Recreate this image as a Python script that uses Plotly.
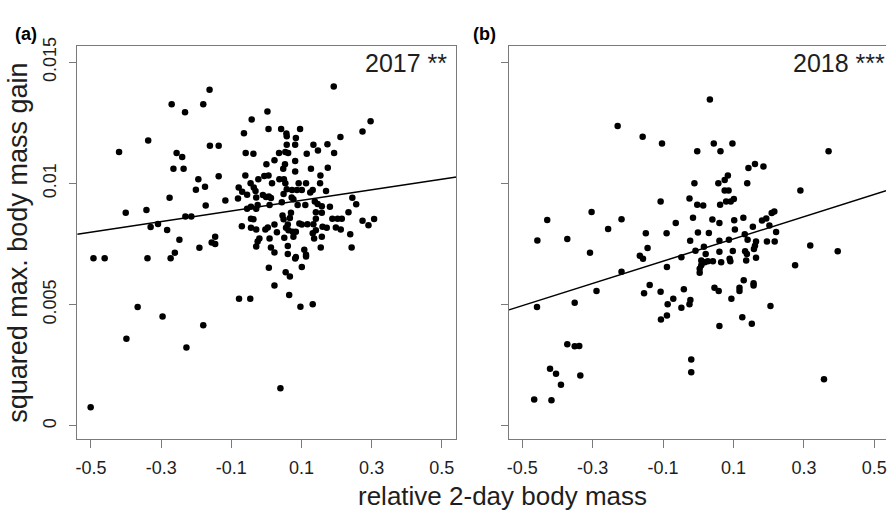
import plotly.graph_objects as go

# ---------------- data ----------------
x_2017 = [-0.420, -0.337, -0.270, -0.232, -0.256, -0.240, -0.265, -0.236, -0.194, -0.180,
          -0.162, -0.161, -0.136, -0.136, -0.064, -0.042, -0.059, -0.037, -0.060, 0.003,
          0.006, 0.042, 0.057, 0.058, 0.096, 0.084, 0.058, 0.082, 0.036, 0.054,
          0.062, 0.023, 0.000, 0.053, 0.082, 0.048, 0.082, 0.115, 0.134, 0.147,
          0.174, 0.193, 0.211, 0.192, 0.274, 0.297, 0.127, 0.175, 0.154, -0.006,
          0.006, -0.023, 0.016, 0.037, 0.050, -0.045, 0.054, 0.092, 0.113, 0.153,
          -0.201, -0.175, -0.173, -0.276, -0.401, -0.342, -0.330, -0.309, -0.283, -0.231,
          -0.214, -0.248, -0.191, -0.156, -0.146, -0.146, -0.493, -0.461, -0.339, -0.273,
          -0.261, -0.367, -0.296, -0.180, -0.399, -0.228, -0.501, 0.040, 0.007, 0.101,
          0.055, 0.067, 0.023, 0.065, -0.078, -0.046, 0.097, 0.132, 0.082, 0.113,
          -0.079, -0.069, -0.036, -0.031, 0.058, 0.073, 0.087, 0.101, 0.125, 0.132,
          0.170, -0.117, -0.081, -0.055, -0.029, -0.010, -0.001, 0.007, 0.013, 0.049,
          0.072, 0.077, 0.044, 0.009, -0.025, 0.089, 0.111, 0.138, 0.146, 0.158,
          0.181, 0.245, 0.256, -0.055, -0.044, -0.029, 0.070, 0.046, 0.049, 0.067,
          0.141, 0.158, 0.141, 0.188, 0.203, 0.215, 0.234, 0.274, 0.291, 0.307,
          -0.044, -0.037, -0.070, -0.044, -0.029, -0.003, 0.004, 0.023, 0.061, 0.056,
          0.063, 0.075, 0.084, 0.094, 0.101, 0.117, 0.134, 0.141, 0.160, 0.172,
          0.198, 0.212, 0.239, 0.030, 0.009, -0.020, -0.025, -0.029, 0.051, 0.077,
          0.132, 0.136, 0.158, 0.013, 0.023, 0.061, 0.061, 0.084, 0.108, 0.113,
          0.155, 0.243]
y_2017 = [0.01129, 0.01177, 0.01326, 0.01293, 0.01125, 0.01109, 0.01060, 0.01060, 0.01017, 0.01326,
          0.01386, 0.01155, 0.01155, 0.01029, 0.01207, 0.01264, 0.01125, 0.01122, 0.01033, 0.01297,
          0.01224, 0.01224, 0.01206, 0.01194, 0.01224, 0.01187, 0.01159, 0.01159, 0.01125, 0.01129,
          0.01125, 0.01095, 0.01079, 0.01079, 0.01092, 0.01060, 0.01049, 0.01122, 0.01159, 0.01136,
          0.01161, 0.01125, 0.01191, 0.01400, 0.01214, 0.01256, 0.01060, 0.01064, 0.01033, 0.01030,
          0.01033, 0.01017, 0.01001, 0.01017, 0.01017, 0.01001, 0.01001, 0.01001, 0.01001, 0.01001,
          0.00974, 0.00986, 0.00909, 0.00941, 0.00879, 0.00890, 0.00820, 0.00832, 0.00808, 0.00863,
          0.00863, 0.00767, 0.00735, 0.00756, 0.00780, 0.00750, 0.00691, 0.00691, 0.00691, 0.00691,
          0.00714, 0.00490, 0.00451, 0.00415, 0.00359, 0.00323, 0.00077, 0.00155, 0.00652, 0.00655,
          0.00633, 0.00616, 0.00579, 0.00540, 0.00524, 0.00524, 0.00491, 0.00501, 0.00690, 0.00698,
          0.00983, 0.00965, 0.00983, 0.00969, 0.00976, 0.00973, 0.00973, 0.00973, 0.00962, 0.00973,
          0.00969, 0.00929, 0.00938, 0.00953, 0.00942, 0.00952, 0.00944, 0.00946, 0.00940, 0.00956,
          0.00942, 0.00935, 0.00922, 0.00911, 0.00911, 0.00911, 0.00911, 0.00925, 0.00915, 0.00906,
          0.00904, 0.00941, 0.00914, 0.00895, 0.00904, 0.00895, 0.00879, 0.00868, 0.00852, 0.00857,
          0.00881, 0.00879, 0.00854, 0.00854, 0.00854, 0.00854, 0.00881, 0.00846, 0.00827, 0.00853,
          0.00854, 0.00852, 0.00823, 0.00817, 0.00810, 0.00810, 0.00818, 0.00830, 0.00830, 0.00817,
          0.00807, 0.00800, 0.00800, 0.00834, 0.00830, 0.00831, 0.00831, 0.00807, 0.00821, 0.00817,
          0.00818, 0.00810, 0.00790, 0.00798, 0.00773, 0.00773, 0.00760, 0.00740, 0.00776, 0.00780,
          0.00794, 0.00773, 0.00780, 0.00736, 0.00715, 0.00742, 0.00709, 0.00696, 0.00726, 0.00706,
          0.00736, 0.00736]

x_2018 = [0.033, -0.229, -0.158, -0.103, -0.003, 0.044, 0.063, 0.097, 0.370, 0.1425,
          0.161, 0.185, -0.011, 0.057, 0.075, 0.084, 0.139, 0.290, 0.075, 0.086,
          -0.107, -0.025, -0.003, 0.014, 0.062, 0.079, 0.092, 0.101, -0.429, -0.457,
          -0.372, -0.303, -0.218, -0.256, -0.3075, -0.218, -0.289, -0.458, -0.351, -0.372,
          -0.351, -0.338, -0.421, -0.404, -0.335, -0.390, -0.466, -0.417, -0.020, -0.020,
          0.357, -0.138, -0.154, -0.107, -0.041, -0.071, -0.087, -0.048, -0.0225, -0.025,
          -0.089, -0.106, 0.046, 0.058, 0.129, 0.117, 0.117, 0.157, 0.157, 0.094,
          0.205, 0.125, 0.152, 0.060, 0.318, 0.396, 0.275, -0.149, -0.090, -0.064,
          -0.015, -0.001, 0.040, 0.060, 0.030, 0.102, 0.128, 0.104, 0.155, 0.181,
          0.193, 0.2085, 0.216, 0.202, 0.221, 0.132, -0.023, 0.060, 0.087, 0.140,
          0.164, 0.161, 0.195, 0.217, -0.144, 0.016, -0.008, 0.021, 0.060, 0.098,
          0.133, 0.138, 0.158, 0.164, 0.136, 0.089, 0.091, 0.065, -0.166, -0.157,
          -0.048, 0.0085, 0.018, 0.027, 0.0415, 0.0085, 0.004, 0.004, -0.089]
y_2018 = [0.01346, 0.01237, 0.01192, 0.01165, 0.01133, 0.01165, 0.01133, 0.01165, 0.01133, 0.01063,
          0.01080, 0.01070, 0.01001, 0.01001, 0.01014, 0.01033, 0.01001, 0.00971, 0.00971, 0.00971,
          0.00925, 0.00938, 0.00912, 0.00909, 0.00912, 0.00925, 0.00925, 0.00936, 0.00849, 0.00764,
          0.00771, 0.00882, 0.00852, 0.00812, 0.00714, 0.00635, 0.00556, 0.00490, 0.00508, 0.00336,
          0.00328, 0.00329, 0.00235, 0.00215, 0.00208, 0.00169, 0.00109, 0.00105, 0.00274, 0.00221,
          0.00192, 0.00581, 0.00547, 0.00553, 0.00563, 0.00524, 0.00501, 0.00487, 0.00519, 0.00501,
          0.00455, 0.00439, 0.00570, 0.00556, 0.00600, 0.00570, 0.00556, 0.00588, 0.00579, 0.00524,
          0.00494, 0.00448, 0.00421, 0.00412, 0.00744, 0.00720, 0.00662, 0.00794, 0.00794, 0.00837,
          0.00858, 0.00797, 0.00851, 0.00837, 0.00795, 0.00848, 0.00858, 0.00810, 0.00821, 0.00847,
          0.00855, 0.00878, 0.00884, 0.00826, 0.00799, 0.00790, 0.00763, 0.00763, 0.00767, 0.00767,
          0.00760, 0.00743, 0.00760, 0.00760, 0.00733, 0.00739, 0.00722, 0.00709, 0.00718, 0.00721,
          0.00720, 0.00709, 0.00729, 0.00693, 0.00682, 0.00689, 0.00679, 0.00675, 0.00702, 0.00689,
          0.00695, 0.00682, 0.00675, 0.00679, 0.00679, 0.00662, 0.00648, 0.00631, 0.00655]

# fitted lines (intercept, slope)
fit_2017 = (0.00908, 0.00218)
fit_2018 = (0.00725, 0.00459)

x_tick_vals = [-0.5, -0.3, -0.1, 0.1, 0.3, 0.5]
x_tick_text = ["-0.5", "-0.3", "-0.1", "0.1", "0.3", "0.5"]
y_tick_vals = [0, 0.005, 0.01, 0.015]
y_tick_text = ["0", "0.005", "0.01", "0.015"]

panel_labels = ["(a)", "(b)"]
year_labels = ["2017 **", "2018 ***"]
x_title = "relative 2-day body mass"
y_title = "squared max. body mass gain"

# ---------------- layout geometry ----------------
W, H = 887, 510
xr_a = [-0.5392, 0.5418]
xr_b = [-0.5376, 0.5331]
yr = [-0.000555, 0.015653]
ydom = [1 - 438 / H, 1 - 38 / H]
xdom_a = [75.5 / W, 456 / W]
xdom_b = [508.7 / W, 1.0]

FONT = "Liberation Sans, Arial, sans-serif"
FRAME = "#7a7a7a"
TXT = "#1e1e1e"

fig = go.Figure()
marker = dict(color="black", size=6.5, line=dict(width=0))

fig.add_trace(go.Scatter(x=x_2017, y=y_2017, mode="markers", marker=marker,
                         xaxis="x", yaxis="y", showlegend=False))
fig.add_trace(go.Scatter(x=x_2018, y=y_2018, mode="markers", marker=marker,
                         xaxis="x2", yaxis="y2", showlegend=False))

for (b0, b1), xr, xa, ya in [(fit_2017, xr_a, "x", "y"), (fit_2018, xr_b, "x2", "y2")]:
    fig.add_trace(go.Scatter(x=xr, y=[b0 + b1 * v for v in xr], mode="lines",
                             line=dict(color="black", width=1.5),
                             xaxis=xa, yaxis=ya, showlegend=False))

common_x = dict(tickvals=x_tick_vals, ticktext=x_tick_text, ticks="outside", ticklen=8,
                tickcolor=FRAME, tickwidth=1, showline=True, linecolor=FRAME, linewidth=1,
                mirror=True, showgrid=False, zeroline=False, ticklabeloverflow="allow",
                tickfont=dict(family=FONT, size=18, color=TXT), ticklabelstandoff=4)
common_y = dict(tickvals=y_tick_vals, ticktext=y_tick_text, ticks="outside", ticklen=7,
                tickcolor=FRAME, tickwidth=1, showline=True, linecolor=FRAME, linewidth=1,
                showgrid=False, zeroline=False, range=yr, domain=ydom, tickangle=-90,
                tickfont=dict(family=FONT, size=18, color=TXT), ticklabelstandoff=6)

fig.update_layout(
    width=W, height=H,
    margin=dict(l=0, r=0, t=0, b=0),
    paper_bgcolor="white", plot_bgcolor="white",
    xaxis=dict(common_x, domain=xdom_a, range=xr_a, anchor="y"),
    yaxis=dict(common_y, anchor="x", mirror=True),
    xaxis2=dict(common_x, domain=xdom_b, range=xr_b, anchor="y2"),
    yaxis2=dict(common_y, anchor="x2", mirror=False, showticklabels=False),
)

ann = []
ann.append(dict(text=x_title, x=502 / W, y=1 - 495.5 / H, xref="paper", yref="paper",
                showarrow=False, xanchor="center", yanchor="middle",
                font=dict(family=FONT, size=26, color=TXT)))
ann.append(dict(text=y_title, x=16 / W, y=1 - 238 / H, xref="paper", yref="paper",
                showarrow=False, xanchor="center", yanchor="middle", textangle=-90,
                font=dict(family=FONT, size=27, color=TXT)))
ann.append(dict(text="<b>%s</b>" % panel_labels[0], x=11 / W, y=1 - 25.5 / H, xref="paper",
                yref="paper", showarrow=False, xanchor="left", yanchor="middle",
                font=dict(family=FONT, size=18, color="black")))
ann.append(dict(text="<b>%s</b>" % panel_labels[1], x=471 / W, y=1 - 25.5 / H, xref="paper",
                yref="paper", showarrow=False, xanchor="left", yanchor="middle",
                font=dict(family=FONT, size=18, color="black")))
ann.append(dict(text=year_labels[0], x=449 / W, y=1 - 55.3 / H, xref="paper", yref="paper",
                showarrow=False, xanchor="right", yanchor="middle",
                font=dict(family=FONT, size=25, color=TXT)))
ann.append(dict(text=year_labels[1], x=791.5 / W, y=1 - 55.3 / H, xref="paper", yref="paper",
                showarrow=False, xanchor="left", yanchor="middle",
                font=dict(family=FONT, size=25, color=TXT)))
fig.update_layout(annotations=ann)

fig.write_html("out.html", config={"displayModeBar": False},
               post_script="document.body.style.margin='0';document.body.style.overflow='hidden';")
